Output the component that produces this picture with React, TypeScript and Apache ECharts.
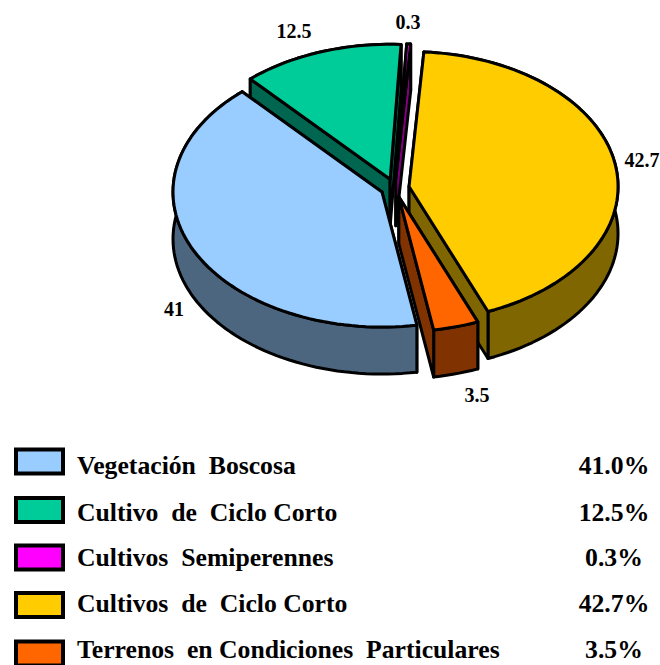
import React, { useEffect, useRef } from "react";
import * as echarts from "echarts";

const categories = [
  "Vegetación  Boscosa",
  "Cultivo  de  Ciclo Corto",
  "Cultivos  Semiperennes",
  "Cultivos  de  Ciclo Corto",
  "Terrenos  en Condiciones  Particulares",
];
const values = [41, 12.5, 0.3, 42.7, 3.5];
const topColors = ["#99CCFF", "#00CC99", "#FF00FF", "#FFCC00", "#FF6600"];
const sideColors = ["#4D6680", "#006650", "#800080", "#806600", "#803300"];
const paintOrder = [1, 2, 0, 3, 4];
const labelAnchors: [number, number][] = [
  [174, 309],
  [294, 31],
  [408, 22],
  [642, 160],
  [477, 395],
];
const rowPadTop = [8, 6, 4, 2, 0];

const FONT = '"Liberation Serif", "Times New Roman", serif';
const START_DEG = 170.4;
const CX = 394.9;
const CY = 188;
const RX = 209;
const RY = 135;
const DEPTH = 47;
const EXPLODE = 0.0685;
const STROKE = 3;

const pt = (ax: number, ay: number, deg: number): [number, number] => {
  const r = (deg * Math.PI) / 180;
  return [ax + RX * Math.sin(r), ay - RY * Math.cos(r)];
};

const arc = (ax: number, ay: number, from: number, to: number) => {
  const steps = Math.max(2, Math.ceil((to - from) / 2));
  const out: [number, number][] = [];
  for (let i = 0; i <= steps; i++) out.push(pt(ax, ay, from + ((to - from) * i) / steps));
  return out;
};

const renderSlice = (index: number) => (_p: any, api: any) => {
  const from = api.value(0) as number;
  const span = (api.value(1) * 360) / 100;
  const to = from + span;
  const mid = (from + to) / 2;
  const r = (mid * Math.PI) / 180;
  const ax = CX + EXPLODE * RX * Math.sin(r);
  const ay = CY - EXPLODE * RY * Math.cos(r);
  const down = (p: [number, number]): [number, number] => [p[0], p[1] + DEPTH];
  const rim = arc(ax, ay, from, to);
  const base = { stroke: "#000", lineWidth: STROKE, lineJoin: "round" };
  const poly = (points: [number, number][], fill: string) => ({
    type: "polygon",
    shape: { points },
    style: { ...base, fill },
  });
  const A: [number, number] = [ax, ay];
  const side = sideColors[index];
  const [lx, ly] = labelAnchors[index];
  const first = rim[0];
  const last = rim[rim.length - 1];
  const fromWall = poly([A, first, down(first), down(A)], side);
  const toWall = poly([A, last, down(last), down(A)], side);
  const fromFaces = Math.sin((from * Math.PI) / 180) < 0;
  const toFaces = Math.sin((to * Math.PI) / 180) > 0;
  const curve = poly([...rim, ...rim.map(down).reverse()], side);
  const walls = [
    ...(fromFaces ? [] : [fromWall]),
    ...(toFaces ? [] : [toWall]),
    curve,
    ...(fromFaces ? [fromWall] : []),
    ...(toFaces ? [toWall] : []),
  ];
  return {
    type: "group",
    children: [
      ...walls,
      poly([A, ...rim], topColors[index]),
      {
        type: "text",
        style: {
          text: String(api.value(1)),
          x: lx,
          y: ly,
          align: "center",
          verticalAlign: "middle",
          font: `bold 20px ${FONT}`,
          fill: "#000",
        },
      },
    ],
  };
};

export default function App() {
  const ref = useRef<HTMLDivElement>(null);
  useEffect(() => {
    if (!ref.current) return;
    const chart = echarts.init(ref.current, undefined, { renderer: "svg" });
    const starts: number[] = [];
    let acc = START_DEG;
    values.forEach((v) => {
      starts.push(acc);
      acc += (v * 360) / 100;
    });
    const rowText = {
      fontFamily: FONT,
      fontWeight: "bold",
      fontSize: 25.7,
      color: "#000",
      height: 24,
      lineHeight: 24,
    };
    const rich: Record<string, any> = {};
    rowPadTop.forEach((t, i) => {
      rich[`n${i}`] = { ...rowText, width: 495, padding: [t, 0, 8 - t, 9], align: "left" };
      rich[`p${i}`] = { ...rowText, width: 84, padding: [t, 0, 8 - t, 0], align: "center" };
    });
    chart.setOption({
      animation: false,
      backgroundColor: "#fff",
      legend: {
        orient: "vertical",
        left: 14,
        top: 445.5,
        height: 400,
        padding: 0,
        itemWidth: 47,
        itemHeight: 24,
        itemGap: 15.5,
        selectedMode: false,
        data: categories.map((name, i) => ({
          name,
          icon: "rect",
          itemStyle: { color: topColors[i], borderColor: "#000", borderWidth: 4 },
        })),
        formatter: (name: string) => {
          const i = categories.indexOf(name);
          return `{n${i}|${name}}{p${i}|${values[i].toFixed(1)}%}`;
        },
        textStyle: { rich },
      },
      series: paintOrder.map((i, order) => ({
        type: "custom",
        name: categories[i],
        coordinateSystem: "none",
        z: 2 + order,
        silent: true,
        itemStyle: { color: topColors[i] },
        renderItem: renderSlice(i),
        data: [{ name: categories[i], value: [starts[i], values[i]] }],
      })),
    });
    return () => chart.dispose();
  }, []);
  return <div ref={ref} style={{ position: "fixed", left: 0, top: 0, width: 660, height: 665 }} />;
}
